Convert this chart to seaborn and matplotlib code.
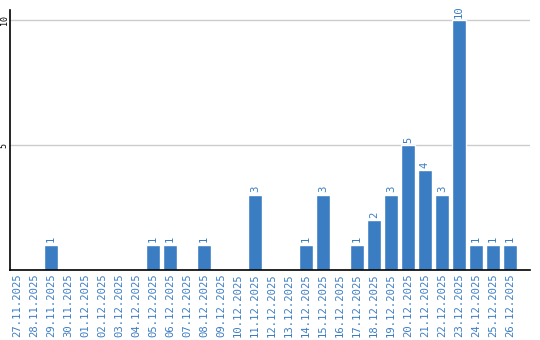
import matplotlib
matplotlib.use("Agg")
import matplotlib.pyplot as plt
import seaborn as sns
import pandas as pd

dates = ["27.11.2025", "28.11.2025", "29.11.2025", "30.11.2025", "01.12.2025",
         "02.12.2025", "03.12.2025", "04.12.2025", "05.12.2025", "06.12.2025",
         "07.12.2025", "08.12.2025", "09.12.2025", "10.12.2025", "11.12.2025",
         "12.12.2025", "13.12.2025", "14.12.2025", "15.12.2025", "16.12.2025",
         "17.12.2025", "18.12.2025", "19.12.2025", "20.12.2025", "21.12.2025",
         "22.12.2025", "23.12.2025", "24.12.2025", "25.12.2025", "26.12.2025"]
counts = [0, 0, 1, 0, 0, 0, 0, 0, 1, 1, 0, 1, 0, 0, 3, 0, 0, 1, 3, 0,
          1, 2, 3, 5, 4, 3, 10, 1, 1, 1]
yticks = [5, 10]

BLUE = "#3b7dc3"
sns.set_theme(style="white")
plt.rcParams['font.family'] = ['DejaVu Sans Mono', 'DejaVu Sans']

df = pd.DataFrame({"date": dates, "count": counts})
fig = plt.figure(figsize=(5.4, 3.4), dpi=100)
ax = fig.add_axes([10/540, 70/340, 520/540, 260/340])
sns.barplot(data=df, x="date", y="count", color=BLUE, saturation=1,
            width=0.82, ax=ax, order=dates, zorder=3)
ax.set_xlim(-0.41, 30.18)
ax.set_ylim(0, 10.4)
ax.set_yticks(yticks)
ax.set_yticklabels([str(v) for v in yticks], rotation=90, va="center",
                   fontsize=6, color="black")
ax.set_xticks(range(len(dates)))
ax.set_xticklabels(dates, rotation=90, fontsize=7.6, color=BLUE)
ax.tick_params(axis="both", length=0, pad=2)
ax.tick_params(axis="y", pad=1)
ax.grid(axis="y", color="#cccccc", linewidth=1, zorder=0)
ax.set_xlabel("")
ax.set_ylabel("")
for s in ["top", "right"]:
    ax.spines[s].set_visible(False)
for s in ["left", "bottom"]:
    ax.spines[s].set_color("black")
    ax.spines[s].set_linewidth(1.2)
    ax.spines[s].set_zorder(4)
for i, v in enumerate(counts):
    if v > 0:
        ax.text(i, v + 0.1, str(v), rotation=90, ha="center", va="bottom",
                fontsize=7.6, color=BLUE)
fig.savefig("out.png", dpi=100)
